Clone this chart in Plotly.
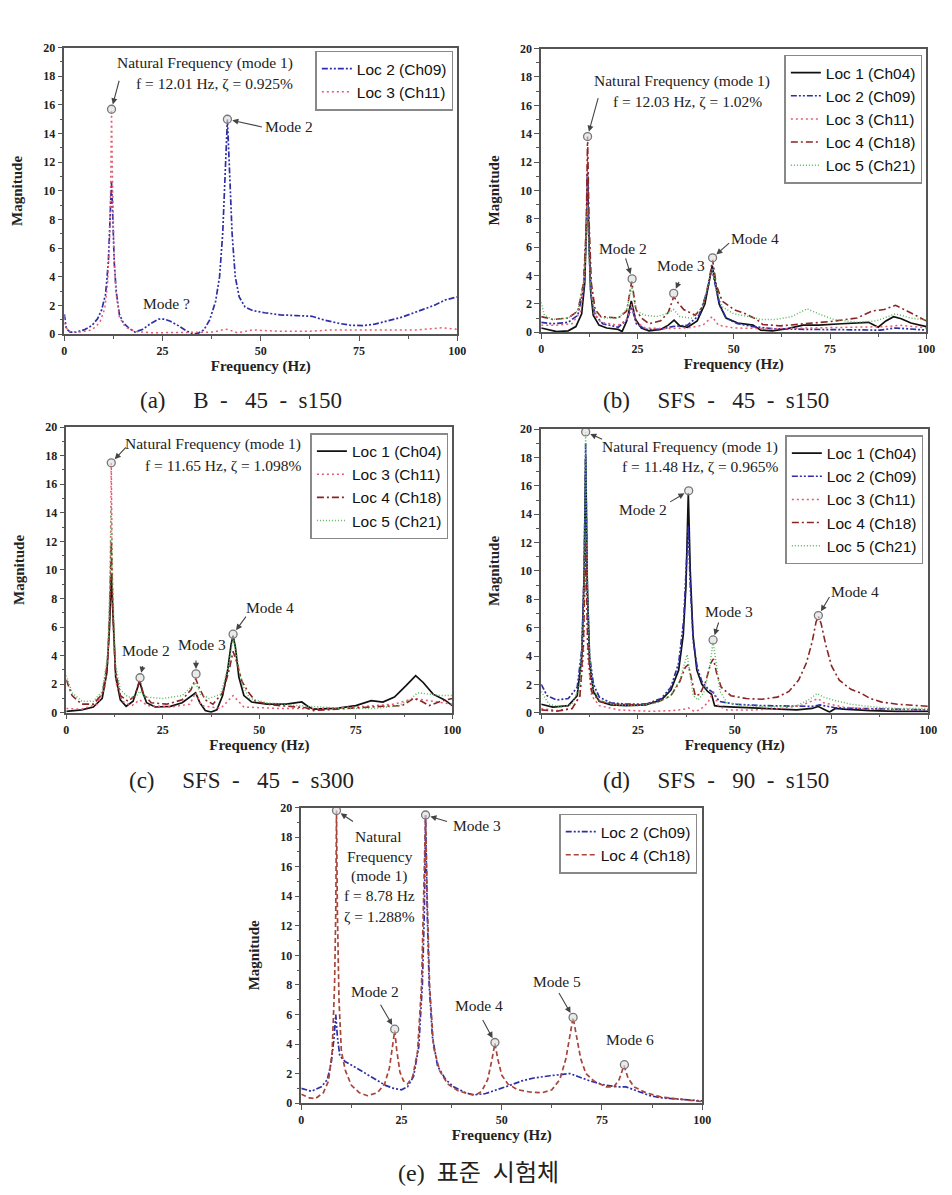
import plotly.graph_objects as go

W, H = 952, 1195

# ---------------- data (frequency Hz, magnitude) ----------------
A_LOC2 = [(0,1.4),(0.5,0.4),(1.5,0.15),(3,0.15),(5,0.3),(7,0.6),(8.5,1.1),(9.5,1.7),(10.5,2.8),(11.2,5),(11.7,8.5),(12.0,10.7),(12.3,8.5),(12.7,5),(13.2,3),(14,1.4),(15,0.8),(16.5,0.4),(18,0.15),(20,0.35),(22,0.75),(24,1.05),(25.5,1.05),(27,0.9),(29,0.6),(31,0.25),(32.5,0.05),(34,0.05),(35.5,0.3),(37,1.0),(38.5,2.3),(39.5,4),(40.3,7),(40.9,11),(41.5,15),(42.1,11),(42.7,7),(43.5,4),(44.5,2.6),(46,1.9),(48,1.65),(51,1.5),(55,1.35),(59,1.3),(63,1.25),(66,1.0),(70,0.75),(73,0.62),(76,0.6),(79,0.7),(82,0.9),(86,1.2),(90,1.6),(94,2.0),(97,2.4),(100,2.6)]
A_LOC3 = [(0,0.8),(1,0.2),(4,0.15),(7,0.3),(9,0.8),(10.3,1.8),(11,3.5),(11.5,6.5),(11.8,10.5),(12.01,15.7),(12.25,11),(12.6,6),(13.1,3),(14,1.2),(15.5,0.5),(18,0.2),(22,0.1),(30,0.1),(38,0.15),(41,0.35),(42,0.3),(44,0.1),(48,0.3),(55,0.2),(62,0.2),(68,0.3),(75,0.3),(82,0.25),(90,0.3),(96,0.45),(100,0.35)]

B_LOC1 = [(0,0.3),(2,0.15),(4,0.05),(7,0.1),(9,0.4),(10.5,1.3),(11.3,3.5),(11.8,8),(12.03,11),(12.3,7.5),(12.8,3),(13.5,1.2),(15,0.5),(17,0.3),(20,0.2),(21,0.05),(22.2,0.8),(23.4,2.2),(24.5,0.9),(26,0.3),(28,0.1),(31,0.2),(33,0.5),(34.5,0.85),(36,0.45),(38,0.35),(40.5,0.8),(42.5,2.0),(43.7,3.8),(44.4,4.7),(45.2,3.5),(46.2,2.0),(48,1.0),(51,0.65),(55,0.5),(57,0.15),(60,0.1),(64,0.25),(68,0.5),(72,0.5),(78,0.6),(85,0.7),(87.5,0.35),(89.5,0.8),(91.5,1.1),(93.5,0.95),(96,0.65),(100,0.4)]
B_LOC2 = [(0,0.7),(3,0.6),(7,0.7),(9.5,1.2),(11,3),(11.7,7),(12.03,11.3),(12.4,6),(13,2.5),(14,1.2),(16,0.6),(20,0.35),(22.3,0.9),(23.5,1.8),(24.7,0.6),(27,0.2),(31,0.2),(34,0.4),(38,0.5),(41,1.2),(43,2.8),(44.3,4.5),(45.3,3.2),(46.5,1.8),(48,1.0),(51,0.6),(55,0.4),(60,0.25),(70,0.2),(80,0.15),(88,0.15),(92,0.3),(96,0.2),(100,0.15)]
B_LOC3 = [(0,0.5),(4,0.5),(8,0.6),(10.3,1.5),(11.3,4),(11.8,8.5),(12.03,12.5),(12.3,8),(12.8,3.5),(13.7,1.3),(15.5,0.7),(20,0.5),(22.3,0.9),(23.5,2.0),(24.7,0.7),(27,0.3),(32,0.25),(38,0.3),(42,0.5),(44.4,1.1),(46,0.5),(50,0.3),(60,0.25),(70,0.3),(80,0.3),(90,0.4),(93,0.5),(100,0.3)]
B_LOC4 = [(0,1.1),(3,0.9),(7,1.0),(9.5,1.5),(11,3.5),(11.7,7.5),(12.03,13.8),(12.4,8),(13,3.5),(14,1.6),(15.5,1.1),(20,1.0),(22.2,1.5),(23.5,3.6),(24.6,1.6),(26,1.0),(28,0.6),(31,0.8),(33,1.4),(34.4,2.5),(35.5,2.1),(37,1.6),(40,1.2),(42,1.8),(43.5,3.5),(44.5,5.1),(45.5,3.3),(47,2.2),(50,1.6),(53,1.3),(56,0.9),(57.5,0.55),(62,0.45),(68,0.6),(75,0.75),(82,1.0),(86,1.5),(89,1.6),(92,1.9),(95,1.5),(100,0.8)]
B_LOC5 = [(0,2.1),(0.8,1.2),(3,0.9),(7,1.0),(9.5,1.5),(11,3.5),(11.7,6.5),(12.03,9),(12.4,5.5),(13,2.5),(14,1.4),(16,1.0),(20,1.0),(22.2,1.6),(23.5,3.2),(24.6,1.5),(27,1.2),(30,1.1),(32.5,1.3),(34.4,1.6),(36,1.1),(39,1.0),(42,1.8),(43.8,4.0),(44.6,4.5),(45.5,3.0),(47,1.8),(50,1.3),(54,1.1),(57,0.9),(61,0.9),(65,1.1),(69,1.65),(72,1.3),(76,0.9),(82,0.7),(87,0.8),(92,1.3),(96,1.0),(100,0.85)]

C_LOC1 = [(0,0.1),(4,0.2),(7,0.4),(9.3,1.0),(10.5,2.8),(11.2,6),(11.65,9.7),(12.1,6.5),(12.8,2.5),(14,0.9),(15.5,0.45),(17.3,0.8),(18.3,1.6),(19,2.2),(19.7,1.5),(20.8,0.7),(23,0.4),(27,0.45),(30,0.7),(32,1.1),(33.5,1.4),(34.6,0.7),(36,0.15),(37.5,0.05),(39,0.2),(40.5,1.2),(41.8,3),(42.7,4.8),(43.2,5.4),(43.8,4.6),(44.7,2.5),(46,1.2),(48,0.75),(52,0.6),(57,0.6),(61,0.75),(62.5,0.45),(64,0.25),(70,0.3),(75,0.5),(79,0.85),(82,0.75),(85,1.1),(88,1.9),(90.5,2.6),(92.5,2.1),(95,1.3),(98,0.9),(100,0.5)]
C_LOC3 = [(0,0.3),(4,0.25),(8,0.6),(10,1.8),(11,5),(11.4,10),(11.65,17.5),(11.9,10),(12.3,5),(13,2),(14.5,0.8),(17,0.5),(19,0.9),(21,0.5),(27,0.4),(32,0.6),(33.5,1.4),(35,0.5),(40,0.3),(43.2,1.2),(46,0.4),(55,0.3),(65,0.3),(75,0.4),(85,0.6),(90,1.0),(95,0.8),(100,0.6)]
C_LOC4 = [(0,2.3),(1.5,1.2),(4,0.6),(7,0.6),(9.3,1.3),(10.7,3.5),(11.3,7.5),(11.65,12),(12,7.5),(12.7,3),(14,1.2),(16,0.8),(17.8,1.2),(19,2.3),(20,1.3),(22,0.7),(26,0.6),(30,0.9),(32.3,1.6),(33.5,2.4),(34.5,1.7),(36,0.9),(38,0.6),(40.5,1.4),(42.2,3.0),(43.2,4.3),(44.2,3.5),(45.5,2.2),(47,1.5),(49,0.8),(53,0.55),(58,0.45),(62,0.35),(64,0.15),(70,0.25),(76,0.4),(82,0.45),(87,0.5),(90,1.0),(92,0.8),(94,0.5),(97,0.8),(100,1.0)]
C_LOC5 = [(0,2.6),(1.5,1.4),(4,0.8),(7,0.8),(9.3,1.5),(10.7,4),(11.3,9),(11.65,14.5),(12,9),(12.7,3.5),(14,1.6),(16,1.1),(18,1.1),(19,1.5),(20.5,1.1),(25,1.0),(30,1.2),(32.3,1.8),(33.5,2.1),(34.8,1.3),(37,1.0),(40,1.3),(42.2,3.5),(43.2,5.3),(44.2,3.8),(45.5,2.0),(47.5,1.0),(52,0.7),(60,0.5),(66,0.4),(72,0.3),(80,0.3),(86,0.5),(89,0.9),(91,1.4),(94,1.3),(97,1.2),(100,1.2)]

D_LOC1 = [(0,0.6),(3,0.4),(7,0.5),(9.3,1.2),(10.5,4),(11.1,10),(11.48,18),(11.9,9),(12.5,3.5),(13.5,1.5),(15,0.8),(18,0.55),(22,0.5),(27,0.55),(31,0.9),(33.5,1.6),(35.5,3),(36.7,5.5),(37.4,9),(38,15.5),(38.5,10),(39.2,5.5),(40.2,3),(41.5,2),(43,1.5),(44,1.3),(44.8,0.5),(46,0.45),(50,0.4),(58,0.3),(66,0.2),(70,0.3),(71.5,0.45),(73,0.25),(74.5,0.05),(76,0.3),(78,0.25),(85,0.15),(92,0.1),(100,0.1)]
D_LOC2 = [(0,2.0),(1.5,1.2),(4,0.9),(7,1.0),(9.3,1.8),(10.5,4.5),(11.1,10),(11.48,19),(11.9,9),(12.5,4),(13.5,2),(15,1.1),(18,0.7),(22,0.6),(27,0.6),(31,1.0),(33.5,1.8),(35.5,3.5),(36.8,6.5),(37.5,10),(38,13.2),(38.5,9),(39.3,5),(40.3,3.2),(41.5,2.2),(43,1.7),(44.5,1.4),(46,0.8),(50,0.6),(57,0.5),(64,0.45),(70,0.45),(72,0.55),(76,0.35),(82,0.3),(90,0.25),(100,0.2)]
D_LOC3 = [(0,0.3),(4,0.15),(8,0.3),(10,1.2),(10.9,4),(11.48,12),(12,4),(13,1.2),(15,0.5),(20,0.2),(28,0.1),(34,0.15),(37,0.25),(38,0.35),(39.5,0.1),(41,0.2),(43,0.7),(44.5,1.5),(45.7,0.5),(48,0.2),(55,0.2),(62,0.3),(67,0.5),(70,0.8),(71.5,1.0),(73,0.7),(78,0.4),(85,0.25),(100,0.2)]
D_LOC4 = [(0,0.2),(4,0.1),(8,0.3),(10,1.2),(10.9,5),(11.48,12),(12,5),(13,1.5),(15,0.8),(19,0.6),(25,0.55),(30,0.75),(33.5,1.2),(35.8,2.2),(37.2,3.2),(38,3.4),(38.8,2.4),(39.8,1.2),(41,1.3),(42.5,2.2),(43.8,3.5),(44.5,3.8),(45.3,2.8),(46.5,1.8),(49,1.2),(53,1.0),(57,0.95),(61,1.1),(64,1.5),(66.5,2.3),(68.5,3.5),(70,5),(71,6.4),(71.6,6.8),(72.3,6.3),(73.5,4.8),(75,3.3),(77,2.3),(80,1.65),(82.5,1.4),(85,1.0),(88,0.75),(92,0.6),(96,0.55),(100,0.45)]
D_LOC5 = [(0,1.5),(2,0.6),(5,0.4),(8,0.6),(10,2),(10.9,7),(11.3,14),(11.48,19.8),(11.8,12),(12.3,5),(13.2,1.8),(15,0.9),(19,0.55),(25,0.5),(30,0.7),(33.5,1.2),(35.8,2.3),(37.2,3.6),(37.7,4.1),(38.4,2.8),(39.3,1.2),(40.5,0.9),(42,1.4),(43.5,3.2),(44.4,5.0),(45.2,3.5),(46.2,1.5),(48,0.7),(53,0.5),(60,0.4),(66,0.5),(69,0.9),(71.3,1.35),(73,1.1),(76,0.85),(80,0.6),(86,0.4),(92,0.3),(100,0.3)]

E_LOC2 = [(0,1.0),(2.5,0.8),(5,1.1),(6.5,1.6),(7.5,2.8),(8.2,4.5),(8.6,6),(9.0,4.5),(9.6,3.2),(11,2.8),(13,2.5),(16,2.0),(19,1.5),(21,1.2),(23,1.0),(25,0.9),(26.5,1.1),(28,1.8),(29.3,3.8),(30.2,8),(30.7,13),(31.0,19.5),(31.4,13),(31.9,8),(32.7,4.5),(34,2.5),(36,1.6),(38,1.1),(41,0.7),(43,0.55),(46,0.65),(49,0.9),(52,1.2),(55,1.5),(58,1.7),(62,1.85),(65,1.95),(67,2.0),(69,1.8),(72,1.5),(76,1.2),(79,1.1),(81,1.1),(84,0.8),(87,0.5),(90,0.35),(95,0.25),(100,0.15)]
E_LOC4 = [(0,0.6),(2,0.35),(3.5,0.3),(5.5,0.7),(6.8,1.5),(7.7,3.5),(8.3,8),(8.6,13),(8.78,19.8),(9.0,13),(9.4,7),(10,3.5),(11,2.2),(12.5,1.2),(14.5,0.7),(16.5,0.5),(19,0.7),(20.8,1.3),(22,2.4),(22.8,3.8),(23.3,4.9),(23.8,3.6),(24.6,2.1),(25.5,1.5),(26.5,1.3),(27.8,1.8),(29,3.5),(30,8),(30.6,14),(31.0,19.5),(31.4,14),(32,8),(33,3.8),(34.5,2.2),(36.5,1.3),(39,0.85),(42,0.6),(43.5,0.55),(45,0.8),(46.5,1.6),(47.6,3.0),(48.3,4.05),(49,3.0),(50,1.9),(51.5,1.3),(54,0.9),(57,0.75),(60,0.7),(62.5,0.9),(64.5,1.6),(66,3),(67,4.6),(67.8,5.8),(68.6,4.6),(69.7,3.0),(71,2.0),(73,1.5),(76,1.1),(78,1.1),(79.3,1.6),(80.5,2.55),(81.5,1.7),(83,1.1),(86,0.7),(90,0.4),(95,0.25),(100,0.1)]

# peak markers
A_PEAK_F = [12.01, 41.5];               A_PEAK_M = [15.7, 15.0]
B_PEAK_F = [12.03, 23.6, 34.4, 44.5];   B_PEAK_M = [13.8, 3.76, 2.74, 5.25]
C_PEAK_F = [11.65, 19.1, 33.6, 43.2];   C_PEAK_M = [17.5, 2.45, 2.72, 5.5]
D_PEAK_F = [11.48, 38.1, 44.4, 71.6];   D_PEAK_M = [19.8, 15.65, 5.13, 6.85]
E_PEAK_F = [8.78, 23.3, 31.0, 48.3, 67.8, 80.6]; E_PEAK_M = [19.8, 5.0, 19.5, 4.1, 5.8, 2.6]

X_TICKS = [0, 25, 50, 75, 100]
Y_TICKS = [0, 2, 4, 6, 8, 10, 12, 14, 16, 18, 20]

CAPTIONS = ["(a)\u2003\u2009B\u2002-\u2002 45\u2002-\u2002s150",
            "(b)\u2003\u2009SFS\u2002-\u2002 45\u2002-\u2002s150",
            "(c)\u2003\u2009SFS\u2002-\u2002 45\u2002-\u2002s300",
            "(d)\u2003\u2009SFS\u2002-\u2002 90\u2002-\u2002s150",
            "(e)\u2002표준\u2002시험체"]

# ---------------- styles ----------------
STY = {
    "Loc 1 (Ch04)": dict(color="#111111", dash="solid", width=1.7),
    "Loc 2 (Ch09)": dict(color="#2e2ea8", dash="6px,2px,2px,2px,2px,2px", width=1.7),
    "Loc 3 (Ch11)": dict(color="#e85a70", dash="2px,3px", width=1.5),
    "Loc 4 (Ch18)": dict(color="#8b2424", dash="7px,3px,2px,3px", width=1.6),
    "Loc 5 (Ch21)": dict(color="#5cb85c", dash="1px,2px", width=1.5),
}
STY_E4 = dict(color="#a8453a", dash="5px,3px", width=1.7)

SERIF = "Liberation Serif"
SANS = "Liberation Sans"

# pixel boxes of plot areas (left, right, top, bottom)
BOX = [(54, 452, 33, 323), (537, 927, 34, 321), (56, 447, 417, 706),
       (537, 929, 419, 706), (294, 700, 802, 1101)]
LEG = [(448, 36), (923, 40), (443, 423), (924, 425), (695, 808)]
CAP = [(233, 390), (714, 390), (233, 775), (714, 775), (473, 1172)]

panels = [
    ([("Loc 2 (Ch09)", A_LOC2, None), ("Loc 3 (Ch11)", A_LOC3, None)], A_PEAK_F, A_PEAK_M),
    ([("Loc 1 (Ch04)", B_LOC1, None), ("Loc 2 (Ch09)", B_LOC2, None), ("Loc 3 (Ch11)", B_LOC3, None),
      ("Loc 4 (Ch18)", B_LOC4, None), ("Loc 5 (Ch21)", B_LOC5, None)], B_PEAK_F, B_PEAK_M),
    ([("Loc 1 (Ch04)", C_LOC1, None), ("Loc 3 (Ch11)", C_LOC3, None),
      ("Loc 4 (Ch18)", C_LOC4, None), ("Loc 5 (Ch21)", C_LOC5, None)], C_PEAK_F, C_PEAK_M),
    ([("Loc 1 (Ch04)", D_LOC1, None), ("Loc 2 (Ch09)", D_LOC2, None), ("Loc 3 (Ch11)", D_LOC3, None),
      ("Loc 4 (Ch18)", D_LOC4, None), ("Loc 5 (Ch21)", D_LOC5, None)], D_PEAK_F, D_PEAK_M),
    ([("Loc 2 (Ch09)", E_LOC2, None), ("Loc 4 (Ch18)", E_LOC4, STY_E4)], E_PEAK_F, E_PEAK_M),
]

# arrows: (panel, peak index, tail dx px, tail dy px)
ARROWS = [(0, 0, 8, -30), (0, 1, 36, 8),
          (1, 0, 11, -40), (1, 1, -7, -22), (1, 2, 6, -13), (1, 3, 18, -16),
          (2, 0, 16, -17), (2, 1, 3, -13), (2, 2, 0, -15), (2, 3, 14, -19),
          (3, 0, 18, 8), (3, 1, -20, 12), (3, 2, 6, -19), (3, 3, 12, -20),
          (4, 0, 18, 12), (4, 1, -15, -26), (4, 2, 23, 7), (4, 3, -13, -24), (4, 4, -15, -26)]

# text labels: (text, px x, px y)
LABELS = [
    ("Natural Frequency (mode 1)", 196, 49), ("f = 12.01 Hz, ζ = 0.925%", 206, 69),
    ("Mode 2", 282, 113), ("Mode ?", 157, 292),
    ("Natural Frequency (mode 1)", 680, 67), ("f = 12.03 Hz, ζ = 1.02%", 685, 88),
    ("Mode 2", 620, 236), ("Mode 3", 679, 253), ("Mode 4", 753, 226),
    ("Natural Frequency (mode 1)", 205, 434), ("f = 11.65 Hz, ζ = 1.098%", 215, 456),
    ("Mode 2", 137, 643), ("Mode 3", 193, 637), ("Mode 4", 262, 600),
    ("Natural Frequency (mode 1)", 688, 437), ("f = 11.48 Hz, ζ = 0.965%", 698, 457),
    ("Mode 2", 640, 500), ("Mode 3", 727, 604), ("Mode 4", 855, 583),
    ("Natural", 372, 831), ("Frequency", 374, 851), ("(mode 1)", 373, 871),
    ("f = 8.78 Hz", 373, 891), ("ζ = 1.288%", 373, 912),
    ("Mode 3", 472, 820), ("Mode 2", 369, 988), ("Mode 4", 474, 1002),
    ("Mode 5", 553, 978), ("Mode 6", 627, 1037),
]

fig = go.Figure()
layout = dict(width=W, height=H, margin=dict(l=0, r=0, t=0, b=0),
              paper_bgcolor="white", plot_bgcolor="white", showlegend=True)
annotations = []

for i, (series, pf, pm) in enumerate(panels):
    n = i + 1
    xa = "x" if n == 1 else f"x{n}"
    ya = "y" if n == 1 else f"y{n}"
    leg = "legend" if n == 1 else f"legend{n}"
    for name, pts, sty in series:
        s = sty if sty is not None else STY[name]
        fig.add_trace(go.Scatter(
            x=[p[0] for p in pts], y=[p[1] for p in pts], mode="lines", name=name,
            line=dict(color=s["color"], dash=s["dash"], width=s["width"]),
            xaxis=xa, yaxis=ya, legend=leg))
    fig.add_trace(go.Scatter(
        x=pf, y=pm, mode="markers", showlegend=False, xaxis=xa, yaxis=ya,
        marker=dict(symbol="circle", size=8, color="rgba(220,220,220,0.6)",
                    line=dict(color="#777777", width=1.3))))
    l, r, t, b = BOX[i]
    axkey = "xaxis" if n == 1 else f"xaxis{n}"
    aykey = "yaxis" if n == 1 else f"yaxis{n}"
    common = dict(showline=True, linecolor="#555555", linewidth=1.5, mirror=True,
                  showgrid=False, zeroline=False, ticks="outside", ticklen=5,
                  tickcolor="#555555", tickwidth=1.2,
                  tickfont=dict(family=SERIF, size=12, color="#222222", weight="bold"))
    layout[axkey] = dict(common, domain=[l / W, r / W], range=[0, 100], anchor=ya,
                         tickvals=X_TICKS,
                         minor=dict(ticks="outside", ticklen=3, dtick=12.5, tickcolor="#555555"),
                         title=dict(text="Frequency (Hz)", standoff=2,
                                    font=dict(family=SERIF, size=15, color="#222222", weight="bold")))
    layout[aykey] = dict(common, domain=[1 - b / H, 1 - t / H], range=[0, 20], anchor=xa,
                         tickvals=Y_TICKS,
                         minor=dict(ticks="outside", ticklen=3, dtick=1, tickcolor="#555555"),
                         title=dict(text="Magnitude", standoff=17,
                                    font=dict(family=SERIF, size=15, color="#222222", weight="bold")))
    lx, ly = LEG[i]
    layout[leg] = dict(x=lx / W, y=1 - ly / H, xanchor="right", yanchor="top",
                       xref="paper", yref="paper",
                       bgcolor="white", bordercolor="#888888", borderwidth=1.5,
                       font=dict(family=SANS, size=15.5, color="#111111"),
                       itemwidth=30, tracegroupgap=0)
    cx, cy = CAP[i]
    annotations.append(dict(text=CAPTIONS[i], x=cx / W, y=1 - cy / H, xref="paper", yref="paper",
                            showarrow=False, xanchor="center", yanchor="middle",
                            font=dict(family=SERIF + ", Noto Sans CJK KR",
                                      size=24 if i == 4 else 23, color="#222222")))

for (pi, k, dx, dy) in ARROWS:
    n = pi + 1
    xa = "x" if n == 1 else f"x{n}"
    ya = "y" if n == 1 else f"y{n}"
    pf, pm = panels[pi][1], panels[pi][2]
    annotations.append(dict(text="", x=pf[k], y=pm[k], xref=xa, yref=ya, showarrow=True,
                            ax=dx, ay=dy, arrowhead=2, arrowsize=1.1, arrowwidth=1.1,
                            arrowcolor="#444444", standoff=5))

for (txt, px, py) in LABELS:
    annotations.append(dict(text=txt, x=px / W, y=1 - py / H, xref="paper", yref="paper",
                            showarrow=False, xanchor="center", yanchor="middle",
                            font=dict(family=SERIF, size=15.5, color="#222222")))

layout["annotations"] = annotations
fig.update_layout(**layout)
fig.write_html("out.html")
